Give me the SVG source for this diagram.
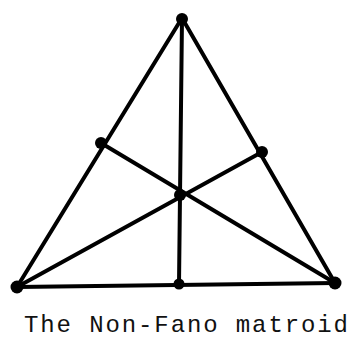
<svg xmlns="http://www.w3.org/2000/svg" width="355" height="340" viewBox="0 0 355 340">
<style>
.l{stroke:#000;stroke-width:4;stroke-linecap:round;fill:none}
.p{fill:#000}
.t{font-family:"Liberation Mono","Courier New",monospace;font-size:24px;fill:#111}
</style>
<rect width="355" height="340" fill="#fff"/>
<g id="connectors">
<line class="l" x1="182" y1="18" x2="17" y2="287"/>
<line class="l" x1="182" y1="18" x2="335" y2="283"/>
<line class="l" x1="17" y1="287" x2="335" y2="283"/>
<line class="l" x1="182" y1="18" x2="179" y2="284"/>
<line class="l" x1="17" y1="287" x2="262" y2="152"/>
<line class="l" x1="335" y1="283" x2="101" y2="143"/>
</g>
<g id="n-top"><circle class="p" cx="182" cy="19" r="6"/></g>
<g id="n-bl"><circle class="p" cx="17" cy="287" r="6.5"/></g>
<g id="n-br"><circle class="p" cx="335" cy="283" r="6.5"/></g>
<g id="n-lm"><circle class="p" cx="101" cy="143" r="6"/></g>
<g id="n-rm"><circle class="p" cx="262" cy="152" r="6"/></g>
<g id="n-c"><circle class="p" cx="180" cy="195" r="6"/></g>
<g id="n-bm"><circle class="p" cx="179" cy="284" r="5.5"/></g>
<text class="t" x="24" y="332" textLength="324" lengthAdjust="spacing">The Non-Fano matroid</text>
</svg>
